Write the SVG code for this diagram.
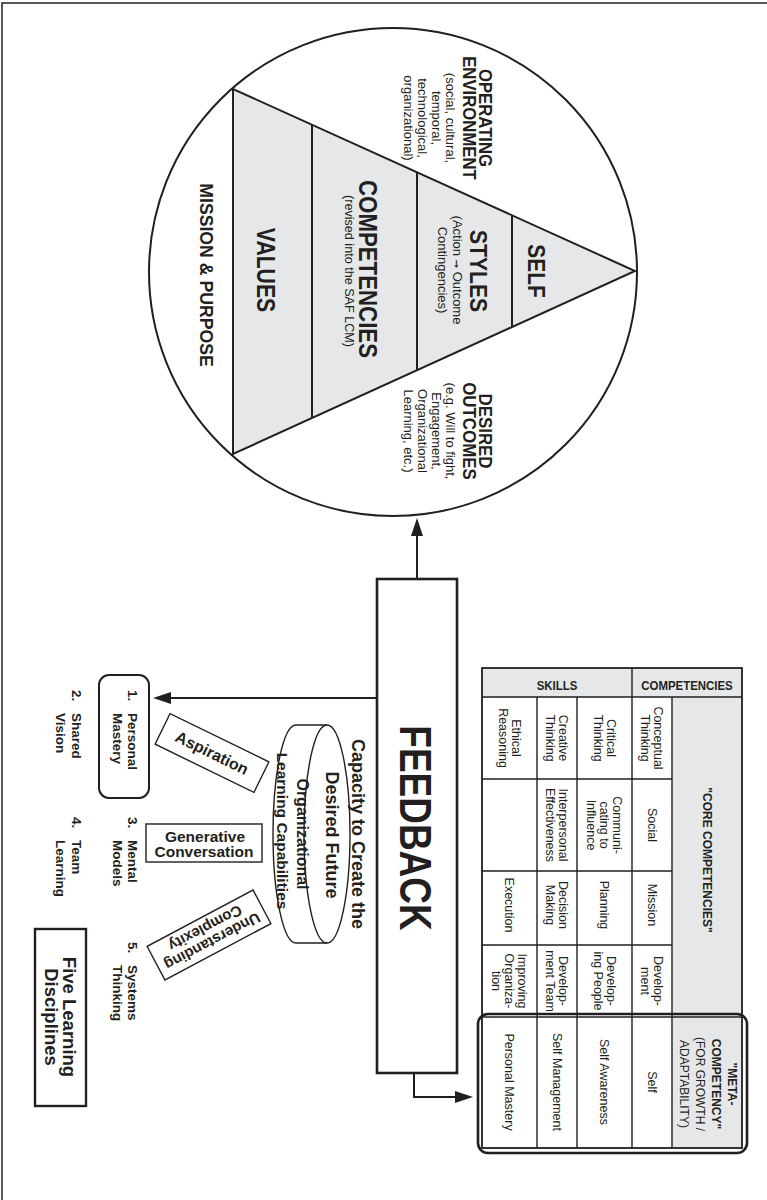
<svg xmlns="http://www.w3.org/2000/svg" width="767" height="1200" viewBox="0 0 767 1200">
<defs>
<style>
text{font-family:"Liberation Sans",Arial,sans-serif;fill:#231f20}
.b{font-weight:bold}
.m{text-anchor:middle}
.ln{fill:none;stroke:#231f20;stroke-width:2}
.thin{fill:none;stroke:#231f20;stroke-width:1.4}
.grey{fill:#e6e7e8}
.cell{font-size:12.5px;text-anchor:middle}
.note{font-size:13px;text-anchor:middle}
.li{font-size:13.5px;font-weight:bold}
.arw{font-family:"DejaVu Sans",sans-serif;font-size:10px}
</style>
<marker id="ah" markerUnits="userSpaceOnUse" markerWidth="18" markerHeight="12" refX="0" refY="6" orient="auto"><path d="M0,0 L18,6 L0,12 z" fill="#231f20"/></marker>
</defs>
<rect width="767" height="1200" fill="#fff"/>
<path d="M2,1200 V3 H767" fill="none" stroke="#231f20" stroke-width="1.5"/>

<g id="model">
<circle cx="393" cy="272" r="244" class="ln" stroke-width="3"/>
<polygon points="233,89 233,454 635,271" class="grey" stroke="#231f20" stroke-width="2"/>
<line x1="312" y1="125" x2="312" y2="418" class="ln"/>
<line x1="417" y1="172.5" x2="417" y2="370" class="ln"/>
<line x1="512" y1="215.6" x2="512" y2="327" class="ln"/>
</g>

<g id="self"><text class="b m" font-size="24" transform="translate(528,271) rotate(90) scale(0.87,1)">SELF</text></g>
<g id="styles">
<text class="b m" font-size="24" transform="translate(470,271) rotate(90) scale(0.88,1)">STYLES</text>
<text class="m" font-size="13" transform="translate(453,270) rotate(90)"><tspan x="0">(Action <tspan class="arw">➞</tspan> Outcome</tspan><tspan x="0" dy="15">Contingencies)</tspan></text>
</g>
<g id="competencies">
<text class="b m" font-size="26" transform="translate(359,269) rotate(90) scale(0.856,1)">COMPETENCIES</text>
<text class="m" font-size="12.6" transform="translate(345,271) rotate(90)">(revised into the SAF LCM)</text>
</g>
<g id="values"><text class="b m" font-size="26" transform="translate(257,270) rotate(90) scale(0.815,1)">VALUES</text></g>
<g id="mission-purpose"><text class="b m" font-size="19" transform="translate(200,275) rotate(90) scale(0.93,1)">MISSION &amp; PURPOSE</text></g>
<g id="operating-environment">
<text class="b m" font-size="18" transform="translate(479,118) rotate(90) scale(0.93,1)"><tspan x="0">OPERATING</tspan><tspan x="0" dy="16">ENVIRONMENT</tspan></text>
<text class="note" transform="translate(446,118) rotate(90)"><tspan x="0">(social, cultural,</tspan><tspan x="0" dy="14">temporal,</tspan><tspan x="0" dy="14">technological,</tspan><tspan x="0" dy="14">organizational)</tspan></text>
</g>
<g id="desired-outcomes">
<text class="b m" font-size="18" transform="translate(479,431) rotate(90) scale(0.94,1)"><tspan x="0">DESIRED</tspan><tspan x="0" dy="16">OUTCOMES</tspan></text>
<text class="note" transform="translate(446,431) rotate(90)"><tspan x="0">(e.g. Will to fight,</tspan><tspan x="0" dy="14">Engagement,</tspan><tspan x="0" dy="14">Organizational</tspan><tspan x="0" dy="14">Learning, etc.)</tspan></text>
</g>

<g id="feedback">
<rect x="377" y="579" width="80" height="494" fill="#fff" stroke="#231f20" stroke-width="2.6"/>
<text class="b m" font-size="44" transform="translate(400,828) rotate(90) scale(0.84,1)">FEEDBACK</text>
</g>

<g id="capacity-cylinder">
<path d="M327,725 H296 A23,109 0 0 0 296,943 H327" class="thin"/>
<ellipse cx="327" cy="834" rx="23" ry="109" class="thin"/>
<text class="b m" font-size="18" transform="translate(352,834) rotate(90)">Capacity to Create the</text>
<text class="b m" font-size="18" transform="translate(326,835) rotate(90)">Desired Future</text>
<text class="b m" font-size="16" transform="translate(297,834) rotate(90)">Organizational</text>
<text class="b m" font-size="15.5" transform="translate(277,831) rotate(90)">Learning Capabilities</text>
</g>

<g id="aspiration" transform="translate(212,753) rotate(26)">
<rect x="-55" y="-17" width="110" height="34" fill="#fff" class="thin"/>
<text class="b m" y="5.5" font-size="16">Aspiration</text>
</g>
<g id="generative-conversation">
<rect x="146" y="824" width="116" height="38" fill="#fff" class="thin"/>
<text class="b m" x="205" y="842" font-size="15.5">Generative</text>
<text class="b m" x="204" y="857" font-size="15.5">Conversation</text>
</g>
<g id="understanding-complexity">
<rect x="-60" y="-19" width="120" height="38" fill="#fff" class="thin" transform="translate(209,935) rotate(-28)"/>
<text class="b m" font-size="15" transform="translate(209,935) rotate(152)"><tspan x="0" y="-2">Understanding</tspan><tspan x="0" y="13">Complexity</tspan></text>
</g>

<g id="discipline-1">
<rect x="99" y="675" width="50" height="123" rx="10" class="ln"/>
<text class="li" transform="translate(128,690) rotate(90)">1.</text>
<text class="li" transform="translate(128,713) rotate(90)"><tspan x="0">Personal</tspan><tspan x="0" dy="15">Mastery</tspan></text>
</g>
<g id="discipline-2">
<text class="li" transform="translate(72,690) rotate(90)">2.</text>
<text class="li" transform="translate(72,713) rotate(90)"><tspan x="0">Shared</tspan><tspan x="0" dy="16">Vision</tspan></text>
</g>
<g id="discipline-3">
<text class="li" transform="translate(128,817) rotate(90)">3.</text>
<text class="li" transform="translate(128,840) rotate(90)"><tspan x="0">Mental</tspan><tspan x="0" dy="15">Models</tspan></text>
</g>
<g id="discipline-4">
<text class="li" transform="translate(72,817) rotate(90)">4.</text>
<text class="li" transform="translate(72,840) rotate(90)"><tspan x="0">Team</tspan><tspan x="0" dy="16">Learning</tspan></text>
</g>
<g id="discipline-5">
<text class="li" transform="translate(128,942) rotate(90)">5.</text>
<text class="li" transform="translate(128,965) rotate(90)"><tspan x="0">Systems</tspan><tspan x="0" dy="15">Thinking</tspan></text>
</g>
<g id="five-learning-disciplines">
<rect x="35" y="929" width="51" height="177" fill="#fff" stroke="#231f20" stroke-width="2.4"/>
<text class="b m" font-size="18.5" transform="translate(63,1017) rotate(90)"><tspan x="0">Five Learning</tspan><tspan x="0" dy="18">Disciplines</tspan></text>
</g>

<g id="competency-table">
<rect x="482" y="668" width="260" height="29" class="grey"/>
<rect x="672" y="697" width="70" height="451" class="grey"/>
<rect x="482" y="668" width="260" height="480" fill="none" stroke="#231f20" stroke-width="1.8"/>
<path d="M482,697 H742 M482,779 H672 M482,871 H672 M482,945 H672 M482,1017 H742 M632,668 V1148 M537,697 V1148 M577,697 V1148 M672,697 V1148" class="thin"/>
<rect x="478" y="1014" width="269" height="139" rx="10" fill="none" stroke="#231f20" stroke-width="2.6"/>
<text class="b m" font-size="13" transform="translate(557,690) scale(0.88,1)">SKILLS</text>
<text class="b m" font-size="13" transform="translate(687,690) scale(0.88,1)">COMPETENCIES</text>
<text class="b m" font-size="12" transform="translate(703,860) rotate(90)">"CORE COMPETENCIES"</text>
<text class="m" font-size="12" transform="translate(728,1084) rotate(90)"><tspan x="0" class="b">"META-</tspan><tspan x="0" dy="16" class="b">COMPETENCY"</tspan><tspan x="0" dy="16">(FOR GROWTH /</tspan><tspan x="0" dy="16">ADAPTABILITY)</tspan></text>

<text class="cell" transform="translate(511.5,738) rotate(90)"><tspan x="0">Ethical</tspan><tspan x="0" dy="13">Reasoning</tspan></text>
<text class="cell" transform="translate(559,738) rotate(90)"><tspan x="0">Creative</tspan><tspan x="0" dy="13">Thinking</tspan></text>
<text class="cell" transform="translate(606.5,738) rotate(90)"><tspan x="0">Critical</tspan><tspan x="0" dy="13">Thinking</tspan></text>
<text class="cell" transform="translate(654,738) rotate(90)"><tspan x="0">Conceptual</tspan><tspan x="0" dy="13">Thinking</tspan></text>

<text class="cell" transform="translate(559,825) rotate(90)"><tspan x="0">Interpersonal</tspan><tspan x="0" dy="13">Effectiveness</tspan></text>
<text class="cell" transform="translate(613,825) rotate(90)"><tspan x="0">Communi-</tspan><tspan x="0" dy="13">cating to</tspan><tspan x="0" dy="13">Influence</tspan></text>
<text class="cell" transform="translate(647.5,825) rotate(90)">Social</text>

<text class="cell" transform="translate(505,905) rotate(90)">Execution</text>
<text class="cell" transform="translate(559,905) rotate(90)"><tspan x="0">Decision</tspan><tspan x="0" dy="13">Making</tspan></text>
<text class="cell" transform="translate(600,905) rotate(90)">Planning</text>
<text class="cell" transform="translate(647.5,905) rotate(90)">Mission</text>

<text class="cell" transform="translate(518,981) rotate(90)"><tspan x="0">Improving</tspan><tspan x="0" dy="13">Organiza-</tspan><tspan x="0" dy="13">tion</tspan></text>
<text class="cell" transform="translate(559,981) rotate(90)"><tspan x="0">Develop-</tspan><tspan x="0" dy="13">ment Team</tspan></text>
<text class="cell" transform="translate(606.5,981) rotate(90)"><tspan x="0">Develop-</tspan><tspan x="0" dy="13">ing People</tspan></text>
<text class="cell" transform="translate(654,981) rotate(90)"><tspan x="0">Develop-</tspan><tspan x="0" dy="13">ment</tspan></text>

<text class="cell" transform="translate(505,1082) rotate(90)">Personal Mastery</text>
<text class="cell" transform="translate(552.5,1082) rotate(90)">Self Management</text>
<text class="cell" transform="translate(600,1082) rotate(90)">Self Awareness</text>
<text class="cell" transform="translate(647.5,1082) rotate(90)">Self</text>
</g>

<g id="connectors">
<path d="M417,579 V536" class="ln" stroke-width="2.4" marker-end="url(#ah)"/>
<path d="M377,698 H171" class="ln" stroke-width="2.4" marker-end="url(#ah)"/>
<path d="M414,1073 V1097 H455" class="ln" stroke-width="2.4" marker-end="url(#ah)"/>
</g>
</svg>
